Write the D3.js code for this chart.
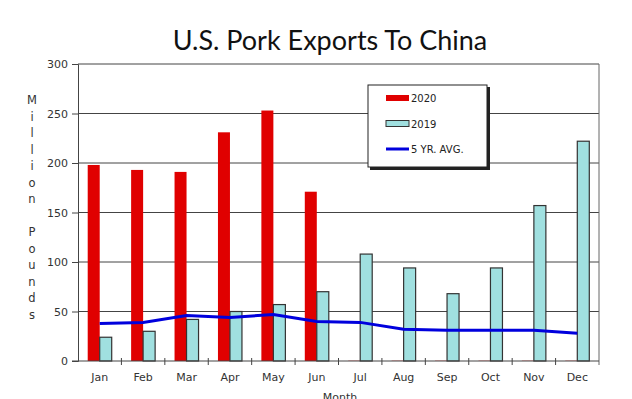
<!DOCTYPE html>
<html>
<head>
<meta charset="utf-8">
<script src="https://cdn.jsdelivr.net/npm/d3@7"></script>
<style>
  body { margin: 0; background: #fff; }
  svg { display: block; }
</style>
</head>
<body>
<div id="chart"></div>
<script>
// chart values
var months = ["Jan", "Feb", "Mar", "Apr", "May", "Jun", "Jul", "Aug", "Sep", "Oct", "Nov", "Dec"];
var exports2020 = [198, 193, 191, 231, 253, 171, 0, 0, 0, 0, 0, 0];
var exports2019 = [24, 30, 42, 50, 57, 70, 108, 94, 68, 94, 157, 222];
var fiveYrAvg = [38, 39, 46, 44, 47, 40, 39, 32, 31, 31, 31, 28];
var yTicks = [0, 50, 100, 150, 200, 250, 300];
var legendItems = ["2020", "2019", "5 YR. AVG."];

var W = 632, H = 399;
// plot box (note: "top" is taken by window.top, so prefix these)
var plotLeft = 78, plotRight = 599, plotTop = 64, plotBottom = 361;

var svg = d3.select("#chart").append("svg")
  .attr("width", W).attr("height", H);

var x = d3.scaleBand().domain(months).range([plotLeft, plotRight]).padding(0);
var y = d3.scaleLinear().domain([0, 300]).range([plotBottom, plotTop]);
var barW = 12;

// title
svg.append("text")
  .attr("x", 330).attr("y", 50)
  .attr("text-anchor", "middle")
  .style("font-family", "Lato, 'Open Sans', sans-serif")
  .style("font-size", "27px")
  .style("fill", "#111")
  .text("U.S. Pork Exports To China");

// grid lines
svg.append("g").selectAll("line")
  .data(yTicks.filter(function(d) { return d > 0; }))
  .join("line")
  .attr("x1", plotLeft).attr("x2", plotRight)
  .attr("y1", function(d) { return y(d); })
  .attr("y2", function(d) { return y(d); })
  .attr("stroke", "#444").attr("stroke-width", 1);

// right border
svg.append("line")
  .attr("x1", plotRight).attr("x2", plotRight).attr("y1", plotTop).attr("y2", plotBottom + 4)
  .attr("stroke", "#666").attr("stroke-width", 1);

// y axis
var yAxis = d3.axisLeft(y).tickValues(yTicks).tickSize(6).tickPadding(4);
var gy = svg.append("g").attr("transform", "translate(" + plotLeft + ",0)").call(yAxis);
gy.select(".domain").attr("stroke", "#444");
gy.selectAll(".tick line").attr("stroke", "#444");
gy.selectAll("text")
  .style("font-family", "'DejaVu Sans', Verdana, sans-serif")
  .style("font-size", "11px")
  .style("fill", "#333");

// y label, letters stacked
var yLabel = "Million Pounds".split("");
svg.append("g").selectAll("text")
  .data(yLabel)
  .join("text")
  .attr("x", 32)
  .attr("y", function(d, i) { return 104 + i * 16.5; })
  .attr("text-anchor", "middle")
  .style("font-family", "'DejaVu Sans', Verdana, sans-serif")
  .style("font-size", "11.5px")
  .style("fill", "#333")
  .text(function(d) { return d; });

// 2020 bars
svg.append("g").selectAll("rect")
  .data(exports2020)
  .join("rect")
  .attr("x", function(d, i) { return x(months[i]) + x.bandwidth() / 2 - barW; })
  .attr("width", barW)
  .attr("y", function(d) { return d > 0 ? y(d) : y(0) - 1; })
  .attr("height", function(d) { return d > 0 ? y(0) - y(d) : 1; })
  .attr("fill", "#e00000")
  .attr("fill-opacity", function(d) { return d > 0 ? 1 : 0.25; });

// 2019 bars
svg.append("g").selectAll("rect")
  .data(exports2019)
  .join("rect")
  .attr("x", function(d, i) { return x(months[i]) + x.bandwidth() / 2; })
  .attr("width", barW)
  .attr("y", function(d) { return y(d); })
  .attr("height", function(d) { return y(0) - y(d); })
  .attr("fill", "#a0e0e0")
  .attr("stroke", "#333")
  .attr("stroke-width", 1.2);

// x axis
var gx = svg.append("g").attr("transform", "translate(0," + plotBottom + ")");
gx.append("line").attr("x1", plotLeft - 6).attr("x2", plotRight).attr("y1", 0).attr("y2", 0)
  .attr("stroke", "#444");
gx.selectAll(".mtick")
  .data(months.slice(1))
  .join("line")
  .attr("class", "mtick")
  .attr("x1", function(d) { return x(d); })
  .attr("x2", function(d) { return x(d); })
  .attr("y1", -3).attr("y2", 4)
  .attr("stroke", "#444");
gx.selectAll("text")
  .data(months)
  .join("text")
  .attr("x", function(d) { return x(d) + x.bandwidth() / 2; })
  .attr("y", 20)
  .attr("text-anchor", "middle")
  .style("font-family", "'DejaVu Sans', Verdana, sans-serif")
  .style("font-size", "11px")
  .style("fill", "#333")
  .text(function(d) { return d; });

// x label, cut off at the bottom edge like the source
svg.append("text")
  .attr("x", 340).attr("y", 401)
  .attr("text-anchor", "middle")
  .style("font-family", "'DejaVu Sans', Verdana, sans-serif")
  .style("font-size", "11px")
  .style("fill", "#333")
  .text("Month");

// 5 yr avg line
var line = d3.line()
  .x(function(d, i) { return x(months[i]) + x.bandwidth() / 2; })
  .y(function(d) { return y(d); });
svg.append("path")
  .datum(fiveYrAvg)
  .attr("d", line)
  .attr("fill", "none")
  .attr("stroke", "#0000dd")
  .attr("stroke-width", 3);

// legend
var lg = svg.append("g").attr("transform", "translate(368,85)");
lg.append("rect").attr("x", 2).attr("y", 2).attr("width", 120).attr("height", 83).attr("fill", "#222");
lg.append("rect").attr("width", 119).attr("height", 82).attr("fill", "#fff").attr("stroke", "#222");
var rows = lg.selectAll(".row").data(legendItems).join("g")
  .attr("class", "row")
  .attr("transform", function(d, i) { return "translate(18," + (13 + i * 25.5) + ")"; });
rows.each(function(d, i) {
  var g = d3.select(this);
  if (i === 0) {
    g.append("rect").attr("x", 0).attr("y", -3).attr("width", 23).attr("height", 6).attr("fill", "#e00000");
  } else if (i === 1) {
    g.append("rect").attr("x", 0).attr("y", -3).attr("width", 23).attr("height", 6)
      .attr("fill", "#a0e0e0").attr("stroke", "#333");
  } else {
    g.append("line").attr("x1", 0).attr("x2", 23).attr("y1", 0).attr("y2", 0)
      .attr("stroke", "#0000dd").attr("stroke-width", 3);
  }
  g.append("text")
    .attr("x", 25).attr("y", 4)
    .style("font-family", "'DejaVu Sans', Verdana, sans-serif")
    .style("font-size", "10px")
    .style("fill", "#222")
    .text(d);
});
</script>
</body>
</html>
